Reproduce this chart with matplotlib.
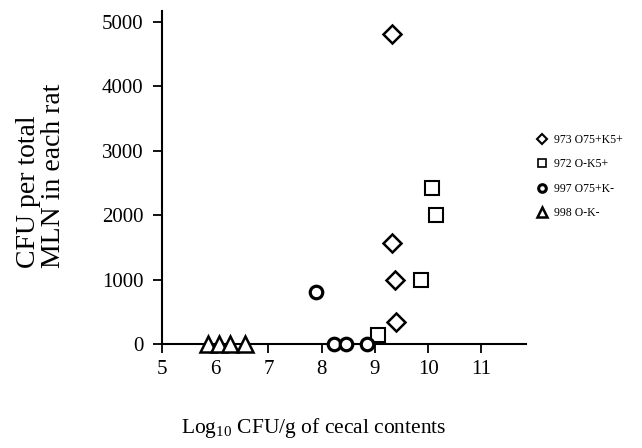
import matplotlib
matplotlib.use('Agg')
import matplotlib.pyplot as plt
from matplotlib.lines import Line2D

plt.rcParams['font.family'] = ['Liberation Serif', 'DejaVu Serif']
plt.rcParams['mathtext.fontset'] = 'custom'
plt.rcParams['mathtext.rm'] = 'Liberation Serif'

# strain 973 O75+K5+
x_973 = [9.32, 9.33, 9.38, 9.39]
y_973 = [4820, 1570, 1000, 340]
# strain 972 O-K5+
x_972 = [10.08, 10.14, 9.87, 9.05]
y_972 = [2420, 2010, 1000, 140]
# strain 997 O75+K-
x_997 = [7.89, 8.24, 8.46, 8.85]
y_997 = [810, 0, 0, 0]
# strain 998 O-K-
x_998 = [5.86, 6.07, 6.28, 6.56]
y_998 = [0, 0, 0, 0]

labels = ['973 O75+K5+', '972 O-K5+', '997 O75+K-', '998 O-K-']
xticks = [5, 6, 7, 8, 9, 10, 11]
yticks = [0, 1000, 2000, 3000, 4000, 5000]

fig = plt.figure(figsize=(6.42, 4.48), dpi=100)
ax = fig.add_axes([162/642, 104/448, 364/642, 333/448])

mk = dict(linestyle='none', markerfacecolor='white', markeredgecolor='black',
          clip_on=False, zorder=3)
ax.plot(x_973, y_973, marker='D', markersize=9.5, markeredgewidth=1.8, **mk)
ax.plot(x_972, y_972, marker='s', markersize=10.5, markeredgewidth=1.5, **mk)
ax.plot(x_997, y_997, marker='o', markersize=9, markeredgewidth=2.3, **mk)
ax.plot(x_998, y_998, marker='^', markersize=11, markeredgewidth=1.8, **mk)

ax.set_xlim(5, 11.84)
ax.set_ylim(0, 5170)
ax.set_xticks(xticks)
ax.set_yticks(yticks)
ax.tick_params(axis='x', direction='out', length=6.5, width=1.3, labelsize=15, pad=5)
ax.tick_params(axis='y', direction='out', length=6.5, width=1.3, labelsize=15, pad=7)
for s in ['top', 'right']:
    ax.spines[s].set_visible(False)
for s in ['left', 'bottom']:
    ax.spines[s].set_linewidth(1.5)

fig.text(41/642, 1 - 268/448, 'CFU per total\nMLN in each rat', rotation=90,
         ha='center', va='bottom', fontsize=20, linespacing=0.95,
         multialignment='left')
fig.text(314/642, 1 - 428/448, r'Log$_{10}$ CFU/g of cecal contents',
         ha='center', va='center', fontsize=15.5)

handles = [
    Line2D([], [], marker='D', markersize=5, markeredgewidth=1.5, **mk),
    Line2D([], [], marker='s', markersize=6, markeredgewidth=1.2, **mk),
    Line2D([], [], marker='o', markersize=5.5, markeredgewidth=2.2, **mk),
    Line2D([], [], marker='^', markersize=6.5, markeredgewidth=1.8, **mk),
]
fig.legend(handles, labels, loc='upper left', bbox_to_anchor=(530/642, 1 - 128/448),
           frameon=False, fontsize=8.5, handlelength=1.0, handletextpad=0.5,
           labelspacing=1.05, borderpad=0)

fig.savefig('out.png', dpi=100)
